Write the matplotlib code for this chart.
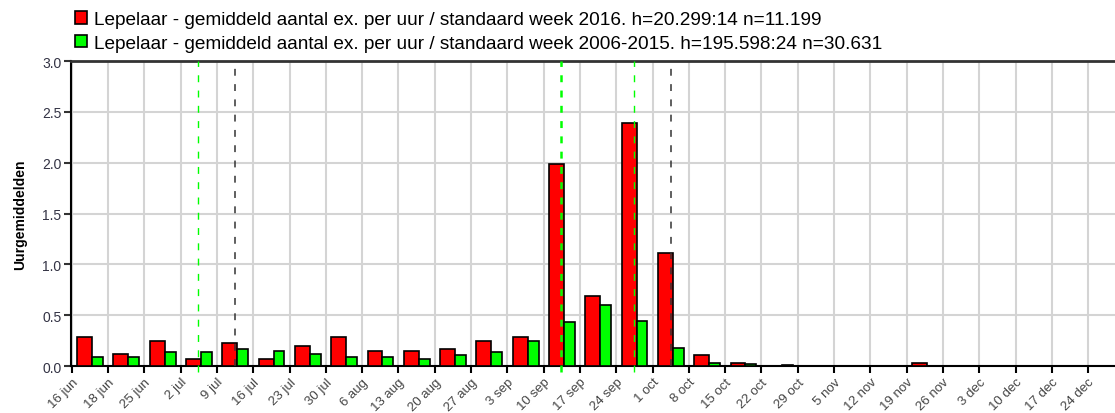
import numpy as np
import matplotlib.pyplot as plt
from matplotlib.patches import Patch

plt.rcParams['font.family'] = ['Liberation Sans', 'DejaVu Sans']

weeks = ['16 jun', '18 jun', '25 jun', '2 jul', '9 jul', '16 jul', '23 jul', '30 jul',
         '6 aug', '13 aug', '20 aug', '27 aug', '3 sep', '10 sep', '17 sep', '24 sep',
         '1 oct', '8 oct', '15 oct', '22 oct', '29 oct', '5 nov', '12 nov', '19 nov',
         '26 nov', '3 dec', '10 dec', '17 dec', '24 dec']

avg_2016 = [0.29, 0.12, 0.245, 0.072, 0.23, 0.072, 0.197, 0.29, 0.15, 0.15, 0.167, 0.245,
            0.29, 1.99, 0.69, 2.39, 1.11, 0.105, 0.03, 0, 0, 0, 0, 0.03, 0, 0, 0, 0, 0]
avg_2006_2015 = [0.088, 0.088, 0.137, 0.137, 0.17, 0.15, 0.118, 0.088, 0.088, 0.072, 0.104,
                 0.137, 0.245, 0.43, 0.60, 0.44, 0.18, 0.027, 0.015, 0.012, 0, 0, 0, 0,
                 0, 0, 0, 0, 0]

# weeks holding a marker line (index into weeks)
marks_green = [3, 13, 15]
marks_green_lw = [1.0, 1.8, 1.0]
marks_black = [4, 16]

label_2016 = 'Lepelaar - gemiddeld aantal ex. per uur / standaard week 2016. h=20.299:14 n=11.199'
label_ref = 'Lepelaar - gemiddeld aantal ex. per uur / standaard week 2006-2015. h=195.598:24 n=30.631'

fig = plt.figure(figsize=(11.15, 4.14), dpi=100)
ax = fig.add_axes([0.0637, 0.1135, 0.9363, 0.7365])

x = np.arange(len(weeks))
ax.bar(x + 0.15, avg_2016, width=0.41, align='edge', color='#ff0000',
       edgecolor='black', linewidth=1.2, zorder=3)
ax.bar(x + 0.56, avg_2006_2015, width=0.30, align='edge', color='#00ff00',
       edgecolor='black', linewidth=1.2, zorder=3)

for m, lw in zip(marks_green, marks_green_lw):
    ax.axvline(m + 0.48, ymin=-0.02, color='#00ff00', linewidth=lw,
               linestyle=(0, (5 / lw, 6 / lw)), zorder=4, clip_on=False)
for m in marks_black:
    ax.axvline(m + 0.5, color='#333333', linewidth=1.1, linestyle=(0, (4.5, 5.5)), zorder=4)

ax.set_xlim(-0.02, 28.74)
ax.set_ylim(0, 3.0)
ax.set_yticks(np.arange(0, 3.01, 0.5))
ax.set_yticklabels([f'{v:.1f}' for v in np.arange(0, 3.01, 0.5)])
ax.set_xticks(x)
ax.set_xticklabels(weeks, rotation=45, ha='right', rotation_mode='anchor')

ax.grid(True, color='#d4d4d4', linewidth=1.5, zorder=0)
ax.tick_params(axis='x', length=5, width=1.5, color='black', labelsize=9.5,
               labelcolor='#444444', pad=2)
ax.tick_params(axis='y', length=5, width=1.5, color='#333333', labelsize=10,
               labelcolor='#333344', pad=2)

ax.spines['right'].set_visible(False)
ax.spines['left'].set_linewidth(1.5)
ax.spines['bottom'].set_linewidth(1.5)
ax.spines['top'].set_linewidth(2)
ax.spines['top'].set_color('#333333')

ax.set_ylabel('Uurgemiddelden', fontsize=10, fontweight='bold', labelpad=11)

handles = [Patch(facecolor='#ff0000', edgecolor='black', linewidth=1.2),
           Patch(facecolor='#00ff00', edgecolor='black', linewidth=1.2)]
fig.legend(handles, [label_2016, label_ref], loc='upper left', bbox_to_anchor=(0.057, 0.998),
           frameon=False, fontsize=13.7, handlelength=0.65, handleheight=0.6,
           handletextpad=0.35, labelspacing=0.36, borderaxespad=0.2)

fig.savefig('out.png', dpi=100)
